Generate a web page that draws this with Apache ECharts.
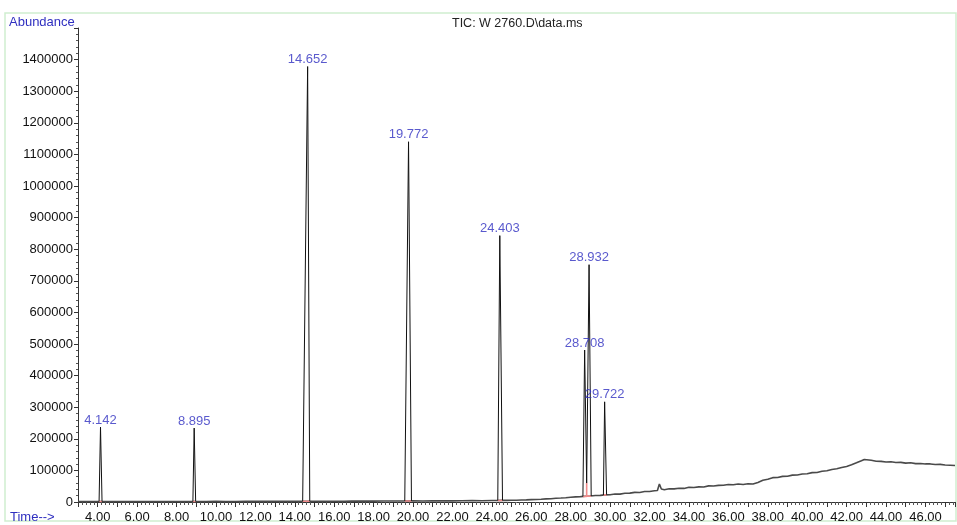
<!DOCTYPE html>
<html>
<head>
<meta charset="utf-8">
<script src="https://cdn.jsdelivr.net/npm/echarts@6/dist/echarts.min.js"></script>
<style>
  html, body { margin: 0; padding: 0; background: #ffffff; }
  #chart { width: 957px; height: 525px; }
</style>
</head>
<body>
<div id="chart"></div>
<script>
// Retention times (min) of the integrated peaks, with apex abundances
const peakTimes   = [4.142, 8.895, 14.652, 19.772, 24.403, 28.708, 28.932, 29.722];
const peakHeights = [237000, 234000, 1378000, 1140000, 843000, 481000, 751000, 317000];
// Peak start / end times and the abundance at the peak feet
const peakStarts   = [4.07, 8.83, 14.40, 19.58, 24.30, 28.62, 28.81, 29.66];
const peakEnds     = [4.22, 8.97, 14.76, 19.92, 24.54, 28.81, 29.04, 29.82];
const peakFeet     = [1700, 1600, 2300, 3300, 4800, 17500, 60000, 22000];
const peakEndFeet  = [1600, 1700, 2500, 3500, 5000, 60000, 19000, 23000];
// Integration baseline level under each peak
const integLevels  = [1700, 1700, 2400, 3400, 4900, 17500, 18500, 22500];

// Baseline of the total ion chromatogram: [time (min), abundance]
const baselineTrace = [
  [3.0, 1800], [3.5, 1500], [4.0, 1700], [4.5, 1400], [5.0, 1600], [5.5, 1300],
  [6.0, 1500], [6.5, 1400], [7.0, 1600], [7.5, 1500], [8.0, 1700], [8.5, 1600],
  [9.0, 1800], [9.5, 1600], [10.0, 1900], [10.5, 1700], [11.0, 1800], [11.5, 2000],
  [12.0, 1900], [12.5, 2100], [13.0, 2000], [13.5, 2200], [14.0, 2300], [14.5, 2400],
  [15.0, 2500], [15.5, 2400], [16.0, 2600], [16.5, 2500], [16.9, 2700], [17.0, 6500],
  [17.1, 2800], [17.5, 2700], [18.0, 2900], [18.5, 3000], [19.0, 3100], [19.5, 3200],
  [20.0, 3500], [20.5, 3400], [21.0, 3600], [21.5, 3800], [22.0, 3700], [22.5, 4000],
  [23.0, 4200], [23.5, 4100], [24.0, 4600], [24.25, 4800], [24.5, 5000], [24.75, 5200],
  [25.0, 5600], [25.25, 5400], [25.5, 6200], [25.75, 6800], [26.0, 7500], [26.25, 7900],
  [26.5, 8700], [26.75, 9800], [27.0, 10500], [27.25, 11800], [27.5, 12600], [27.75, 13500],
  [28.0, 15000], [28.25, 16200], [28.5, 17000], [28.75, 18000], [29.0, 19000], [29.25, 20500],
  [29.5, 21000], [29.75, 22500], [30.0, 23000], [30.25, 25500], [30.5, 25000], [30.75, 27500],
  [31.0, 28000], [31.25, 30500], [31.5, 30000], [31.75, 33000], [32.0, 33000], [32.25, 35500],
  [32.4, 36500], [32.5, 57000], [32.6, 41000], [32.75, 39000], [33.0, 42000], [33.25, 41500],
  [33.5, 43500], [33.75, 43000], [34.0, 46500], [34.25, 46000], [34.5, 48000], [34.75, 47500],
  [35.0, 51000], [35.25, 50500], [35.5, 52500], [35.75, 53000], [36.0, 55500], [36.25, 54500],
  [36.5, 57000], [36.75, 55500], [37.0, 57500], [37.25, 57000], [37.5, 62000], [37.75, 69000],
  [38.0, 72000], [38.25, 77000], [38.5, 77500], [38.75, 81000], [39.0, 81500], [39.25, 85000],
  [39.5, 85500], [39.75, 88500], [40.0, 89500], [40.25, 93000], [40.5, 93500], [40.75, 97500],
  [41.0, 99000], [41.25, 103000], [41.5, 105000], [41.75, 109000], [42.0, 112500], [42.25, 118000],
  [42.5, 124000], [42.75, 130500], [42.9, 134500], [43.0, 134000], [43.25, 132000], [43.5, 129000],
  [43.75, 128500], [44.0, 126500], [44.25, 127500], [44.5, 125000], [44.75, 125500], [45.0, 123000],
  [45.25, 124000], [45.5, 121500], [45.75, 122000], [46.0, 120500], [46.25, 120500], [46.5, 118500],
  [46.75, 119000], [47.0, 117000], [47.25, 116500], [47.5, 115500]
];

// Axis tick labels
const timeTicks = ['4.00', '6.00', '8.00', '10.00', '12.00', '14.00', '16.00', '18.00', '20.00',
  '22.00', '24.00', '26.00', '28.00', '30.00', '32.00', '34.00', '36.00', '38.00', '40.00',
  '42.00', '44.00', '46.00'];

const LABEL_BLUE = '#2f2fc0';
const FONT = 'Liberation Sans, Arial, sans-serif';

// Peak outlines: foot -> apex -> foot, separated by gaps
const peakData = [];
const integData = [];
const apexData = [];
peakTimes.forEach(function (t, i) {
  peakData.push([peakStarts[i], peakFeet[i]]);
  peakData.push([t, peakHeights[i]]);
  peakData.push([peakEnds[i], peakEndFeet[i]]);
  peakData.push([null, null]);
  apexData.push({ value: [t, peakHeights[i]], name: t.toFixed(3) });
  // pink integration baseline under each peak
  integData.push([peakStarts[i], integLevels[i]]);
  integData.push([peakEnds[i], integLevels[i]]);
  integData.push([null, null]);
});
// drop line between the two co-eluting peaks
integData.push([peakEnds[5], peakEndFeet[5]]);
integData.push([peakEnds[5], integLevels[5]]);

const chart = echarts.init(document.getElementById('chart'), null, { renderer: 'canvas' });

chart.setOption({
  animation: false,
  backgroundColor: '#ffffff',
  textStyle: { fontFamily: FONT },
  grid: { left: 78, right: 2, top: 28, bottom: 23, containLabel: false },
  xAxis: {
    type: 'value',
    min: 3,
    max: 47.5,
    interval: 1,
    axisLine: { show: true, onZero: false, lineStyle: { color: '#333', width: 1 } },
    axisTick: { show: true, length: 5, lineStyle: { color: '#333' } },
    minorTick: { show: true, splitNumber: 5, length: 3, lineStyle: { color: '#555' } },
    splitLine: { show: false },
    axisLabel: {
      fontSize: 13,
      color: '#111',
      margin: 9,
      showMaxLabel: false,
      showMinLabel: false,
      formatter: function (v) {
        const s = v.toFixed(2);
        return timeTicks.indexOf(s) >= 0 ? s : '';
      }
    }
  },
  yAxis: {
    type: 'value',
    min: 0,
    max: 1500000,
    interval: 100000,
    axisLine: { show: true, lineStyle: { color: '#333', width: 1 } },
    axisTick: { show: true, length: 4, lineStyle: { color: '#333' } },
    minorTick: { show: true, splitNumber: 5, length: 2, lineStyle: { color: '#555' } },
    splitLine: { show: false },
    axisLabel: {
      fontSize: 13,
      color: '#111',
      margin: 5,
      showMaxLabel: false,
      formatter: function (v) { return String(v); }
    }
  },
  series: [
    {
      name: 'TIC baseline',
      type: 'line',
      data: baselineTrace,
      symbol: 'none',
      lineStyle: { color: '#4a4a4a', width: 1.6 },
      z: 2
    },
    {
      name: 'Integration',
      type: 'line',
      data: integData,
      symbol: 'none',
      connectNulls: false,
      lineStyle: { color: '#f08a8a', width: 1.6 },
      z: 3
    },
    {
      name: 'Peaks',
      type: 'line',
      data: peakData,
      symbol: 'none',
      connectNulls: false,
      lineStyle: { color: '#111', width: 1 },
      z: 4
    },
    {
      name: 'Retention times',
      type: 'scatter',
      data: apexData,
      symbolSize: 1,
      itemStyle: { color: 'rgba(0,0,0,0)' },
      label: {
        show: true,
        position: 'top',
        distance: 0,
        color: LABEL_BLUE,
        fontSize: 13,
        fontFamily: FONT,
        formatter: function (p) { return p.name; }
      },
      z: 5
    }
  ],
  graphic: [
    {
      type: 'rect',
      shape: { x: 5, y: 13, width: 951, height: 508 },
      style: { fill: 'none', stroke: '#cfeecf', lineWidth: 1.5 },
      silent: true,
      z: -1
    },
    {
      type: 'text',
      left: 9,
      top: 16,
      style: { text: 'Abundance', fill: LABEL_BLUE, fontSize: 13, fontFamily: FONT }
    },
    {
      type: 'text',
      left: 452,
      top: 17,
      style: { text: 'TIC: W 2760.D\\data.ms', fill: '#222', fontSize: 12.5, fontFamily: FONT }
    },
    {
      type: 'text',
      left: 10,
      top: 511,
      style: { text: 'Time-->', fill: LABEL_BLUE, fontSize: 13, fontFamily: FONT }
    }
  ]
});
</script>
</body>
</html>
